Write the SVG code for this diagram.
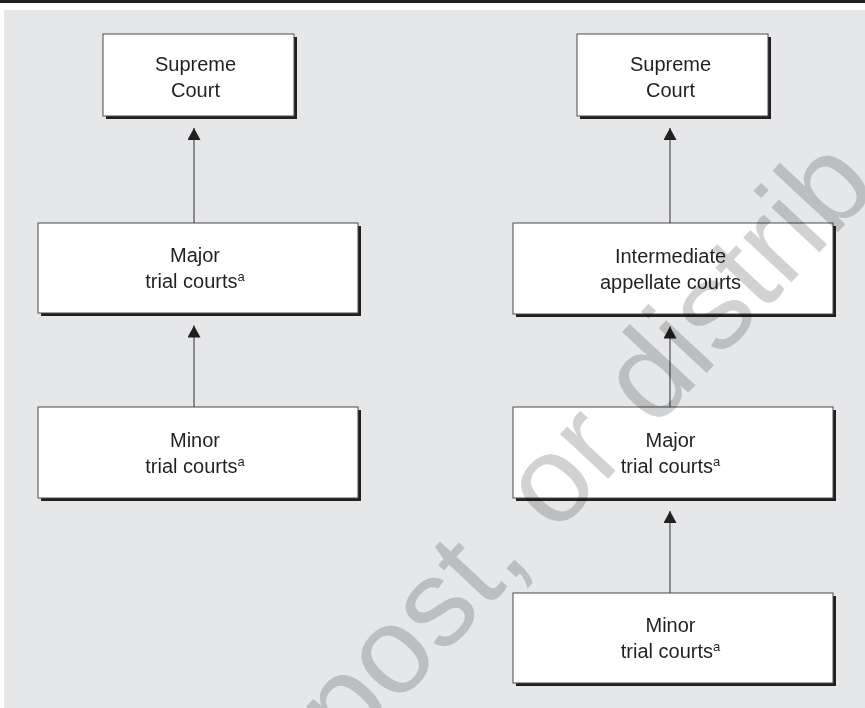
<svg xmlns="http://www.w3.org/2000/svg" width="865" height="708" viewBox="0 0 865 708">
<style>
.box{fill:#ffffff;stroke:#4a4a4a;stroke-width:1}
.shadow{fill:#231f20}
.lbl{font-family:"Liberation Sans",Arial,sans-serif;font-size:20px;fill:#231f20;text-anchor:middle}
.sup{font-size:13px}
.conn{stroke:#4d4d4f;stroke-width:1.2;fill:none;marker-end:url(#ah)}
.wm{font-family:"Liberation Sans",Arial,sans-serif;font-size:124px;fill:#d1d2d3;mix-blend-mode:multiply}
</style>
<defs>
<marker id="ah" markerUnits="userSpaceOnUse" markerWidth="13" markerHeight="13" refX="12" refY="6.5" orient="auto">
<path d="M0,0 L12,6.5 L0,13 z" fill="#231f20"/>
</marker>
</defs>
<rect x="0" y="0" width="865" height="708" fill="#ffffff"/>
<rect x="0" y="0" width="865" height="3" fill="#231f20"/>
<rect x="4" y="10" width="861" height="698" fill="#e6e7e8"/>

<g id="connectors">
<line class="conn" x1="194" y1="223" x2="194" y2="128"/>
<line class="conn" x1="194" y1="407" x2="194" y2="325.5"/>
<line class="conn" x1="670" y1="223" x2="670" y2="128"/>
<line class="conn" x1="670" y1="407" x2="670" y2="326.5"/>
<line class="conn" x1="670" y1="593" x2="670" y2="511"/>
</g>

<g id="left-supreme">
<rect class="shadow" x="106" y="37" width="191" height="82"/>
<rect class="box" x="103" y="34" width="191" height="82"/>
<text class="lbl" x="195.5" y="70.5">Supreme</text>
<text class="lbl" x="195.5" y="96.5">Court</text>
</g>
<g id="left-major">
<rect class="shadow" x="41" y="226" width="320" height="90"/>
<rect class="box" x="38" y="223" width="320" height="90"/>
<text class="lbl" x="195" y="262">Major</text>
<text class="lbl" x="195" y="288">trial courts<tspan class="sup" dy="-7">a</tspan></text>
</g>
<g id="left-minor">
<rect class="shadow" x="41" y="410" width="320" height="91"/>
<rect class="box" x="38" y="407" width="320" height="91"/>
<text class="lbl" x="195" y="446.5">Minor</text>
<text class="lbl" x="195" y="472.5">trial courts<tspan class="sup" dy="-7">a</tspan></text>
</g>

<g id="right-supreme">
<rect class="shadow" x="580" y="37" width="191" height="82"/>
<rect class="box" x="577" y="34" width="191" height="82"/>
<text class="lbl" x="670.5" y="70.5">Supreme</text>
<text class="lbl" x="670.5" y="96.5">Court</text>
</g>
<g id="right-intermediate">
<rect class="shadow" x="516" y="226" width="320" height="91"/>
<rect class="box" x="513" y="223" width="320" height="91"/>
<text class="lbl" x="670.5" y="262.5">Intermediate</text>
<text class="lbl" x="670.5" y="288.5">appellate courts</text>
</g>
<g id="right-major">
<rect class="shadow" x="516" y="410" width="320" height="91"/>
<rect class="box" x="513" y="407" width="320" height="91"/>
<text class="lbl" x="670.5" y="446.5">Major</text>
<text class="lbl" x="670.5" y="472.5">trial courts<tspan class="sup" dy="-7">a</tspan></text>
</g>
<g id="right-minor">
<rect class="shadow" x="516" y="596" width="320" height="90"/>
<rect class="box" x="513" y="593" width="320" height="90"/>
<text class="lbl" x="670.5" y="632">Minor</text>
<text class="lbl" x="670.5" y="658">trial courts<tspan class="sup" dy="-7">a</tspan></text>
</g>

<g id="watermark">
<text class="wm" transform="translate(579,510) rotate(-47)" x="-338" y="0">post, or distrib</text>
</g>
</svg>
